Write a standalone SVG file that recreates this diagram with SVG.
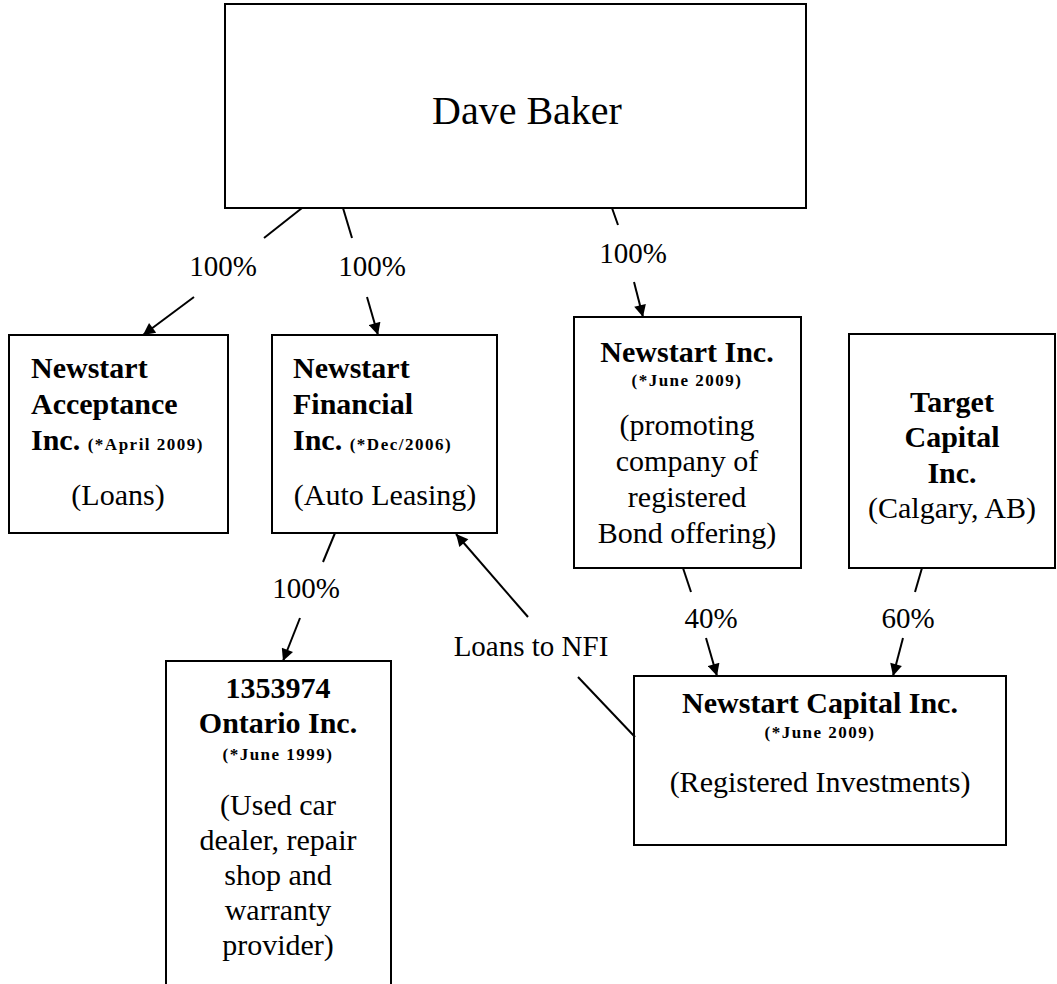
<svg xmlns="http://www.w3.org/2000/svg" width="1057" height="984" viewBox="0 0 1057 984">
<style>
.box{fill:#fff;stroke:#000;stroke-width:2}
.t{font-family:"Liberation Serif","Times New Roman",serif;font-size:30px;fill:#000}
.b{font-family:"Liberation Serif","Times New Roman",serif;font-size:30px;font-weight:bold;fill:#000}
.s{font-family:"Liberation Serif","Times New Roman",serif;font-size:17px;font-weight:bold;letter-spacing:1.5px;fill:#000}
.c{text-anchor:middle}
.lbl{font-family:"Liberation Serif","Times New Roman",serif;font-size:29px;fill:#000;text-anchor:middle}
.ln{stroke:#000;stroke-width:2;fill:none}
</style>
<defs>
<marker id="arr" viewBox="0 0 10 10" refX="10" refY="5" markerWidth="14" markerHeight="12" markerUnits="userSpaceOnUse" orient="auto">
<path d="M0,0 L10,5 L0,10 z" fill="#000"/>
</marker>
</defs>
<rect width="1057" height="984" fill="#fff"/>

<g id="dave-baker">
<rect class="box" x="225" y="4" width="581" height="204"/>
<text class="t" x="432" y="124" style="font-size:40px">Dave Baker</text>
</g>

<g id="newstart-acceptance">
<rect class="box" x="9" y="335" width="219" height="198"/>
<text class="b" x="31" y="378">Newstart</text>
<text class="b" x="31" y="414">Acceptance</text>
<text class="b" x="31" y="450">Inc. <tspan class="s">(*April 2009)</tspan></text>
<text class="t c" x="118" y="505">(Loans)</text>
</g>

<g id="newstart-financial">
<rect class="box" x="272" y="335" width="225" height="198"/>
<text class="b" x="293" y="378">Newstart</text>
<text class="b" x="293" y="414">Financial</text>
<text class="b" x="293" y="450">Inc. <tspan class="s">(*Dec/2006)</tspan></text>
<text class="t c" x="385" y="505">(Auto Leasing)</text>
</g>

<g id="newstart-inc">
<rect class="box" x="574" y="317" width="227" height="251"/>
<text class="b c" x="687" y="362">Newstart Inc.</text>
<text class="s c" x="687" y="386">(*June 2009)</text>
<text class="t c" x="687" y="435">(promoting</text>
<text class="t c" x="687" y="471">company of</text>
<text class="t c" x="687" y="507">registered</text>
<text class="t c" x="687" y="543">Bond offering)</text>
</g>

<g id="target-capital">
<rect class="box" x="849" y="334" width="206" height="234"/>
<text class="b c" x="952" y="412">Target</text>
<text class="b c" x="952" y="447">Capital</text>
<text class="b c" x="952" y="483">Inc.</text>
<text class="t c" x="952" y="518">(Calgary, AB)</text>
</g>

<g id="ontario-inc">
<path class="ln" d="M166,992 V661 H391 V992"/>
<text class="b c" x="278" y="698">1353974</text>
<text class="b c" x="278" y="733">Ontario Inc.</text>
<text class="s c" x="278" y="760">(*June 1999)</text>
<text class="t c" x="278" y="815">(Used car</text>
<text class="t c" x="278" y="850">dealer, repair</text>
<text class="t c" x="278" y="885">shop and</text>
<text class="t c" x="278" y="920">warranty</text>
<text class="t c" x="278" y="955">provider)</text>
</g>

<g id="newstart-capital">
<rect class="box" x="634" y="676" width="372" height="169"/>
<text class="b c" x="820" y="713">Newstart Capital Inc.</text>
<text class="s c" x="820" y="738">(*June 2009)</text>
<text class="t c" x="820" y="792">(Registered Investments)</text>
</g>

<g id="connectors">
<line class="ln" x1="302" y1="208" x2="264" y2="238"/>
<line class="ln" x1="194" y1="297" x2="143" y2="335" marker-end="url(#arr)"/>
<line class="ln" x1="343" y1="208" x2="352" y2="238"/>
<line class="ln" x1="367" y1="297" x2="378" y2="335" marker-end="url(#arr)"/>
<line class="ln" x1="612" y1="208" x2="618" y2="225"/>
<line class="ln" x1="634" y1="282" x2="643" y2="317" marker-end="url(#arr)"/>
<line class="ln" x1="335" y1="533" x2="323" y2="562"/>
<line class="ln" x1="300" y1="618" x2="283" y2="661" marker-end="url(#arr)"/>
<line class="ln" x1="528" y1="617" x2="456" y2="534" marker-end="url(#arr)"/>
<line class="ln" x1="578" y1="677" x2="635" y2="737"/>
<line class="ln" x1="683" y1="568" x2="691" y2="592"/>
<line class="ln" x1="706" y1="638" x2="717" y2="676" marker-end="url(#arr)"/>
<line class="ln" x1="922" y1="568" x2="915" y2="592"/>
<line class="ln" x1="903" y1="638" x2="893" y2="676" marker-end="url(#arr)"/>
<text class="lbl" x="223" y="276">100%</text>
<text class="lbl" x="372" y="276">100%</text>
<text class="lbl" x="633" y="263">100%</text>
<text class="lbl" x="306" y="598">100%</text>
<text class="lbl" x="531" y="656">Loans to NFI</text>
<text class="lbl" x="711" y="628">40%</text>
<text class="lbl" x="908" y="628">60%</text>
</g>
</svg>
